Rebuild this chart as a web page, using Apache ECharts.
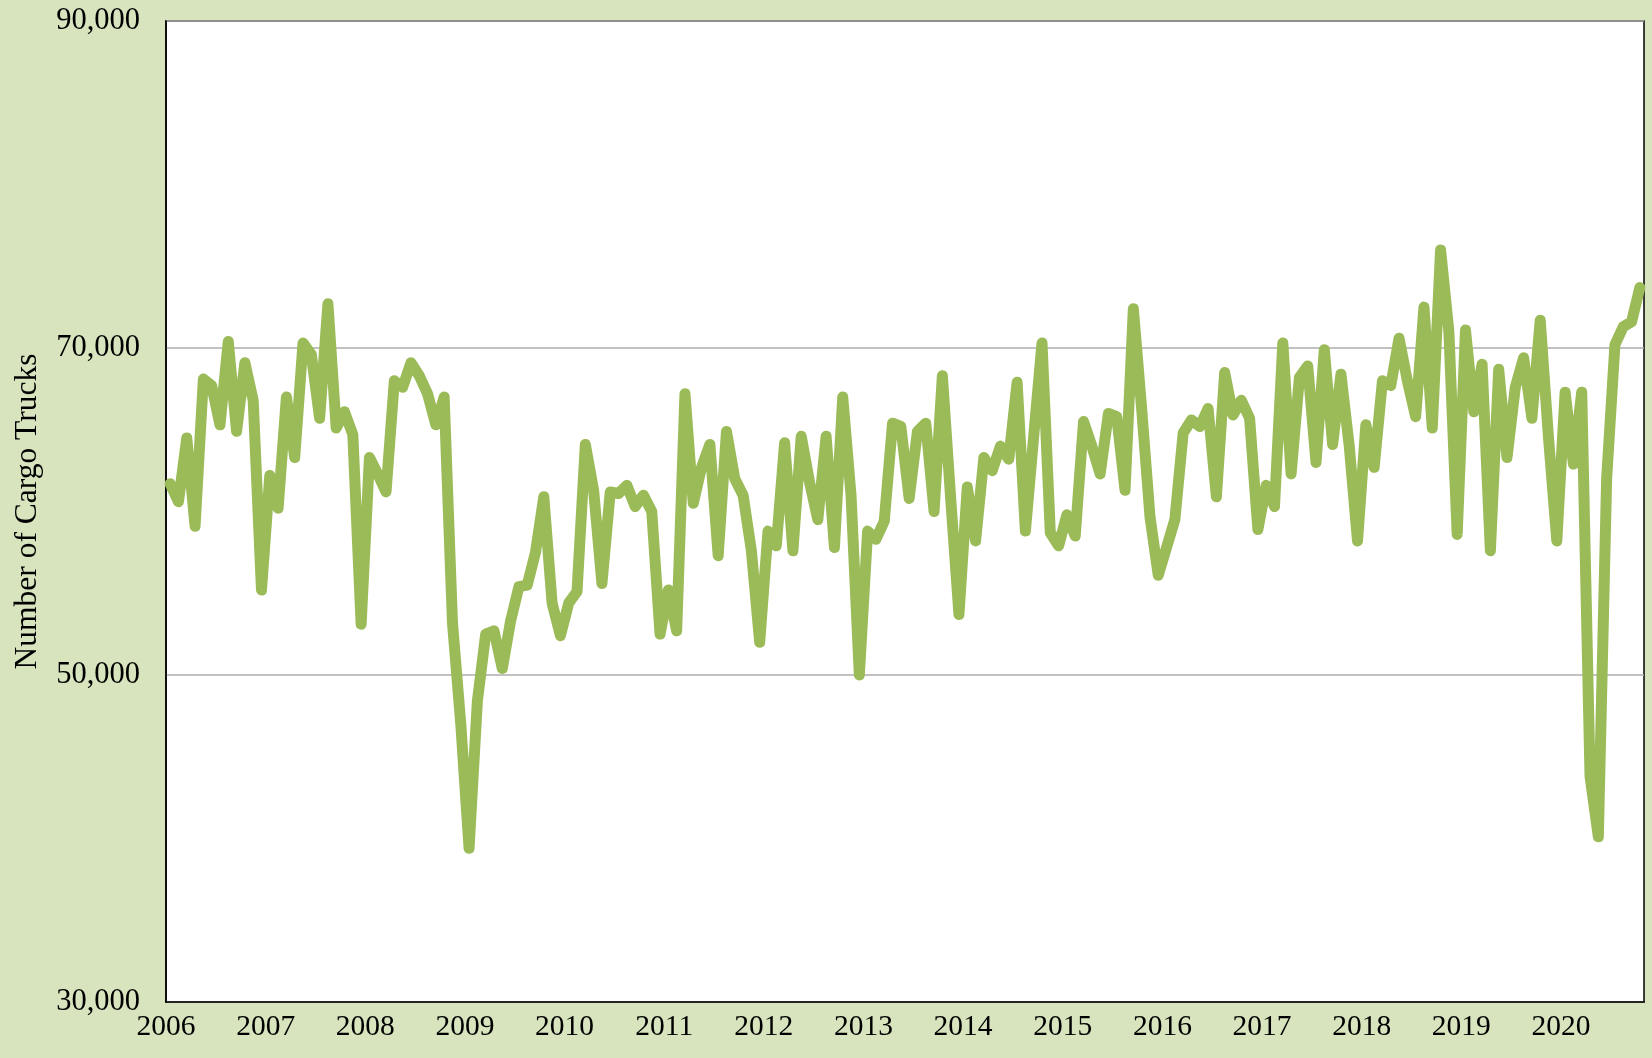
<!DOCTYPE html>
<html>
<head>
<meta charset="utf-8">
<script src="https://cdn.jsdelivr.net/npm/echarts@6/dist/echarts.min.js"></script>
<style>
  html, body { margin: 0; padding: 0; background: #D7E4BD; }
  #chart { width: 1652px; height: 1058px; }
</style>
</head>
<body>
<div id="chart"></div>
<script>
// Monthly cargo truck counts, one array per calendar year
const years = ['2006','2007','2008','2009','2010','2011','2012','2013','2014','2015','2016','2017','2018','2019','2020'];
const trucks2006 = [61700, 60600, 64500, 59100, 68100, 67700, 65300, 70400, 64900, 69100, 66800, 55200];
const trucks2007 = [62200, 60200, 67000, 63300, 70300, 69600, 65700, 72700, 65100, 66100, 64700, 53100];
const trucks2008 = [63300, 62300, 61200, 68000, 67600, 69100, 68300, 67200, 65300, 67000, 53200, 47000];
const trucks2009 = [39400, 48400, 52500, 52700, 50400, 53300, 55400, 55500, 57500, 60900, 54400, 52400];
const trucks2010 = [54400, 55100, 64100, 61300, 55600, 61200, 61100, 61600, 60300, 61000, 60000, 52500];
const trucks2011 = [55200, 52700, 67200, 60500, 62700, 64100, 57300, 64900, 62000, 61000, 57600, 52000];
const trucks2012 = [58800, 57900, 64200, 57600, 64600, 61800, 59500, 64600, 57800, 67000, 61000, 50000];
const trucks2013 = [58800, 58300, 59400, 65400, 65200, 60800, 64900, 65400, 60000, 68300, 60800, 53700];
const trucks2014 = [61500, 58200, 63300, 62500, 64000, 63200, 67900, 58800, 64600, 70300, 58700, 57900];
const trucks2015 = [59800, 58500, 65500, 64000, 62300, 66000, 65800, 61300, 72400, 66300, 59700, 56100];
const trucks2016 = [57800, 59500, 64800, 65600, 65200, 66300, 60900, 68500, 65900, 66800, 65700, 58900];
const trucks2017 = [61600, 60300, 70300, 62300, 68200, 68900, 63000, 69900, 64100, 68400, 64000, 58200];
const trucks2018 = [65300, 62700, 68000, 67700, 70600, 68000, 65800, 72500, 65100, 76000, 71000, 58600];
const trucks2019 = [71100, 66100, 69000, 57600, 68700, 63300, 67600, 69400, 65700, 71700, 64500, 58200];
const trucks2020 = [67300, 62900, 67300, 43800, 40100, 62000, 70200, 71300, 71600, 73700];

// Value axis ticks
const yTicks = [30000, 50000, 70000, 90000];

const trucks = [].concat(trucks2006, trucks2007, trucks2008, trucks2009, trucks2010,
  trucks2011, trucks2012, trucks2013, trucks2014, trucks2015, trucks2016,
  trucks2017, trucks2018, trucks2019, trucks2020);

// The time axis counts months from Jan 2006; each reading sits in the middle of its month
const points = trucks.map(function (v, i) { return [i + 0.5, v]; });
const monthSpan = trucks.length;

const serif = "'Liberation Serif', 'Times New Roman', 'DejaVu Serif', serif";

const chart = echarts.init(document.getElementById('chart'), null, { renderer: 'canvas' });
chart.setOption({
  backgroundColor: '#D7E4BD',
  animation: false,
  grid: {
    left: 166, right: 8, top: 21, bottom: 56,
    show: true,
    backgroundColor: '#FFFFFF',
    borderColor: '#000000',
    borderWidth: 1.5
  },
  xAxis: {
    type: 'value',
    min: 0,
    max: monthSpan,
    interval: 12,
    axisLine: { show: true, onZero: false, lineStyle: { color: '#000000', width: 1.5 } },
    axisTick: { show: false },
    splitLine: { show: false },
    axisLabel: {
      showMaxLabel: false,
      formatter: function (v) {
        return v % 12 === 0 ? years[v / 12] : '';
      },
      color: '#000000',
      fontFamily: serif,
      fontSize: 29.5,
      margin: 10
    }
  },
  yAxis: {
    type: 'value',
    min: yTicks[0],
    max: yTicks[yTicks.length - 1],
    interval: yTicks[1] - yTicks[0],
    name: 'Number of Cargo Trucks',
    nameLocation: 'middle',
    nameGap: 122,
    nameTextStyle: { color: '#000000', fontFamily: serif, fontSize: 31.5 },
    axisLine: { show: true, lineStyle: { color: '#000000', width: 1.5 } },
    axisTick: { show: false },
    splitLine: { show: true, lineStyle: { color: '#ADADAD', width: 1.5 } },
    axisLabel: {
      color: '#000000',
      fontFamily: serif,
      fontSize: 30.5,
      margin: 26,
      formatter: function (v) { return v.toLocaleString('en-US'); }
    }
  },
  series: [{
    type: 'line',
    data: points,
    showSymbol: false,
    smooth: false,
    lineStyle: { color: '#9BBB59', width: 11, cap: 'round', join: 'round' },
    itemStyle: { color: '#9BBB59' }
  }]
});
</script>
</body>
</html>
